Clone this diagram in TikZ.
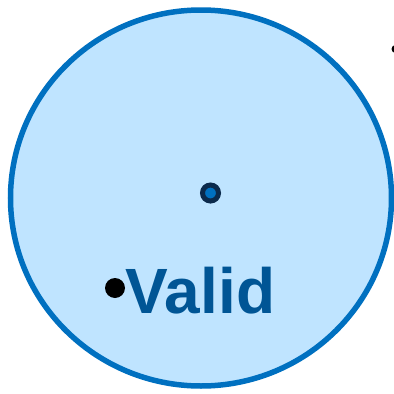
\documentclass[tikz,border=0pt]{standalone}
\usepackage{fontspec}
\setmainfont{Liberation Sans}
\definecolor{ringblue}{HTML}{0070C0}
\definecolor{discblue}{HTML}{BFE4FF}
\definecolor{labelblue}{HTML}{005595}
\definecolor{hubnavy}{HTML}{0B2A4C}

\begin{document}
\begin{tikzpicture}[x=1pt,y=-1pt]
	\useasboundingbox (0,0) rectangle (394,394);
	\coordinate (o) at (201,198);
	\coordinate (hub) at (210.5,193);
	\draw[color=ringblue, fill=discblue, line width=5.5pt](o) ellipse[x radius=190.5, y radius=188];
	\draw[color=hubnavy, fill=ringblue, line width=5pt](hub) circle(8);
	\fill(395.5,49) circle(4);
	\fill(115,288) circle(10);
	\node[anchor=base west, inner sep=0pt, text=labelblue, font=\fontsize{64}{70}\selectfont\bfseries] (valid) at (125.5,313) {Valid};
\end{tikzpicture}
\end{document}
